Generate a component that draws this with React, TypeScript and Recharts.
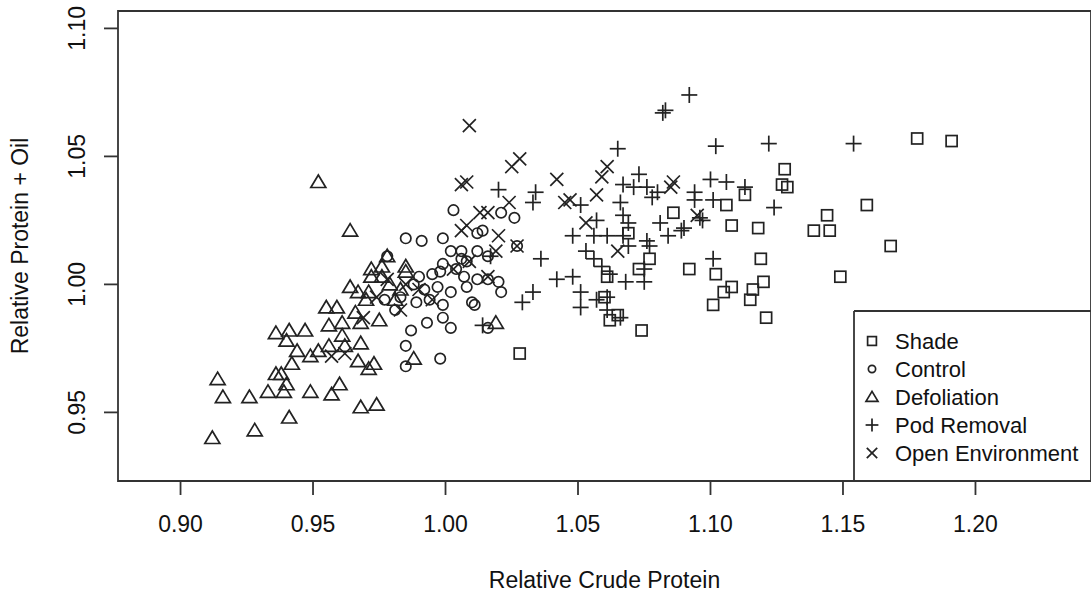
import React from 'react';
import { ScatterChart, Scatter, XAxis, YAxis, ReferenceArea, Legend } from 'recharts';

const xDomain = [0.8764, 1.2436];
const yDomain = [0.9232, 1.1068];
const xTicks = [0.9, 0.95, 1.0, 1.05, 1.1, 1.15, 1.2];
const yTicks = [0.95, 1.0, 1.05, 1.1];
const xTitle = 'Relative Crude Protein';
const yTitle = 'Relative Protein + Oil';
const seriesNames = ['Shade', 'Control', 'Defoliation', 'Pod Removal', 'Open Environment'];

const shade = [
  [1.028, 0.973], [1.060, 0.995], [1.061, 1.003], [1.062, 0.986], [1.065, 0.988], [1.069, 1.020],
  [1.073, 1.006], [1.074, 0.982], [1.077, 1.010], [1.086, 1.028], [1.092, 1.006], [1.101, 0.992],
  [1.102, 1.004], [1.105, 0.997], [1.106, 1.031], [1.108, 1.023], [1.108, 0.999], [1.113, 1.035],
  [1.115, 0.994], [1.116, 0.998], [1.118, 1.022], [1.119, 1.010], [1.120, 1.001], [1.121, 0.987],
  [1.127, 1.039], [1.128, 1.045], [1.129, 1.038], [1.139, 1.021], [1.144, 1.027], [1.145, 1.021],
  [1.149, 1.003], [1.159, 1.031], [1.168, 1.015], [1.178, 1.057], [1.191, 1.056],
];

const control = [
  [1.003, 1.029], [0.985, 1.018], [0.991, 1.017], [0.999, 1.018], [1.026, 1.026], [1.021, 1.028],
  [1.012, 1.020], [1.014, 1.021], [1.027, 1.015], [1.002, 1.013], [1.006, 1.013], [1.012, 1.013],
  [1.016, 1.011], [1.006, 1.010], [1.008, 1.009], [0.978, 1.011], [0.999, 1.008], [0.998, 1.005],
  [1.004, 1.006], [1.007, 1.003], [1.012, 1.002], [0.995, 1.004], [0.990, 1.003], [0.988, 1.000],
  [0.992, 0.998], [0.997, 0.999], [1.002, 0.997], [1.008, 0.999], [1.016, 1.002], [1.020, 1.001],
  [1.021, 0.997], [1.010, 0.993], [0.989, 0.993], [0.994, 0.994], [1.011, 0.992], [0.999, 0.992],
  [0.993, 0.985], [0.999, 0.987], [1.002, 0.983], [0.987, 0.982], [0.985, 0.976], [0.985, 0.968],
  [0.998, 0.971], [1.016, 0.983], [0.983, 0.995], [0.981, 0.990], [0.977, 0.994],
];

const defoliation = [
  [0.952, 1.040], [0.964, 1.021], [0.978, 1.011], [0.972, 1.006], [0.976, 1.007], [0.972, 1.003],
  [0.976, 1.003], [0.964, 0.999], [0.967, 0.997], [0.971, 0.997], [0.970, 0.994], [0.955, 0.991],
  [0.959, 0.991], [0.968, 0.985], [0.956, 0.984], [0.961, 0.985], [0.936, 0.981], [0.941, 0.982],
  [0.947, 0.982], [0.940, 0.978], [0.944, 0.974], [0.949, 0.972], [0.952, 0.974], [0.956, 0.976],
  [0.961, 0.980], [0.962, 0.976], [0.968, 0.977], [0.942, 0.969], [0.936, 0.965], [0.938, 0.965],
  [0.940, 0.961], [0.914, 0.963], [0.916, 0.956], [0.926, 0.956], [0.933, 0.958], [0.939, 0.958],
  [0.949, 0.958], [0.957, 0.957], [0.960, 0.961], [0.967, 0.970], [0.973, 0.969], [0.971, 0.967],
  [0.968, 0.952], [0.974, 0.953], [0.941, 0.948], [0.928, 0.943], [0.912, 0.940], [0.985, 1.007],
  [0.979, 1.000], [0.985, 1.005], [0.988, 0.971], [1.019, 0.985], [0.981, 0.994], [0.975, 0.986],
  [0.966, 0.989], [0.983, 0.998],
];

const podRemoval = [
  [1.092, 1.074], [1.083, 1.068], [1.082, 1.067], [1.065, 1.053], [1.102, 1.054], [1.122, 1.055],
  [1.154, 1.055], [1.124, 1.030], [1.020, 1.037], [1.034, 1.036], [1.033, 1.032], [1.048, 1.019],
  [1.036, 1.010], [1.042, 1.002], [1.048, 1.003], [1.033, 0.997], [1.029, 0.993], [1.051, 0.997],
  [1.017, 1.011], [1.014, 0.984], [1.051, 0.991], [1.073, 1.043], [1.067, 1.039], [1.071, 1.038],
  [1.076, 1.038], [1.080, 1.036], [1.078, 1.034], [1.066, 1.032], [1.051, 1.031], [1.057, 1.025],
  [1.067, 1.027], [1.069, 1.024], [1.081, 1.024], [1.090, 1.022], [1.100, 1.041], [1.106, 1.040],
  [1.113, 1.038], [1.094, 1.036], [1.094, 1.033], [1.101, 1.033], [1.096, 1.026], [1.097, 1.025],
  [1.056, 1.019], [1.061, 1.019], [1.067, 1.019], [1.076, 1.017], [1.084, 1.019], [1.089, 1.021],
  [1.053, 1.013], [1.056, 1.010], [1.059, 1.007], [1.069, 1.015], [1.077, 1.015], [1.075, 1.006],
  [1.075, 1.001], [1.068, 1.001], [1.062, 1.004], [1.057, 0.994], [1.061, 0.995], [1.061, 0.990],
  [1.066, 0.987], [1.101, 1.010],
];

const openEnvironment = [
  [1.009, 1.062], [1.025, 1.046], [1.028, 1.049], [1.006, 1.039], [1.008, 1.040], [1.042, 1.041],
  [1.024, 1.032], [1.045, 1.032], [1.016, 1.028], [1.013, 1.028], [1.008, 1.023], [1.006, 1.021],
  [1.020, 1.019], [1.027, 1.015], [1.019, 1.013], [1.016, 1.003], [0.985, 1.000], [0.978, 1.002],
  [1.061, 1.046], [1.059, 1.042], [1.057, 1.035], [1.086, 1.040], [1.085, 1.038], [1.053, 1.024],
  [1.047, 1.033], [1.065, 1.013], [1.095, 1.027], [0.957, 0.972], [0.962, 0.973], [0.974, 0.995],
  [0.995, 0.994], [1.003, 1.006], [0.990, 0.998], [0.983, 0.990], [0.969, 0.987], [1.009, 1.009],
];

const kinds = ['square', 'circle', 'triangle', 'plus', 'cross'];
const allSeries = [shade, control, defoliation, podRemoval, openEnvironment];

const INK = '#222';
const FONT = '"Liberation Sans", Arial, sans-serif';

function Marker({ kind, cx, cy, k = 1 }: { kind: string; cx: number; cy: number; k?: number }) {
  const common = { fill: 'none', stroke: INK, strokeWidth: 1.7 };
  if (kind === 'square') {
    const h = 5.5 * k;
    return <rect x={cx - h} y={cy - h} width={2 * h} height={2 * h} {...common} />;
  }
  if (kind === 'circle') {
    return <circle cx={cx} cy={cy} r={5.2 * k} {...common} />;
  }
  if (kind === 'triangle') {
    const w = 7.5 * k;
    return (
      <polygon
        points={`${cx},${cy - 7 * k} ${cx - w},${cy + 5.5 * k} ${cx + w},${cy + 5.5 * k}`}
        {...common}
        strokeLinejoin="miter"
      />
    );
  }
  if (kind === 'plus') {
    const a = 8 * k;
    return (
      <g {...common}>
        <line x1={cx - a} y1={cy} x2={cx + a} y2={cy} />
        <line x1={cx} y1={cy - a} x2={cx} y2={cy + a} />
      </g>
    );
  }
  const a = 6.5 * k;
  return (
    <g {...common}>
      <line x1={cx - a} y1={cy - a} x2={cx + a} y2={cy + a} />
      <line x1={cx - a} y1={cy + a} x2={cx + a} y2={cy - a} />
    </g>
  );
}

const makeShape = (kind: string) => (props: any) => {
  if (props.cx == null || props.cy == null) return <g />;
  return <Marker kind={kind} cx={props.cx} cy={props.cy} />;
};

const XTick = (props: any) => {
  const { x, y, payload } = props;
  return (
    <text x={x} y={y + 35} textAnchor="middle" fontSize={23} fontFamily={FONT} fill="#111">
      {Number(payload.value).toFixed(2)}
    </text>
  );
};

const YTick = (props: any) => {
  const { x, y, payload } = props;
  const bx = x - 17;
  return (
    <text
      x={bx}
      y={y}
      textAnchor="middle"
      fontSize={23}
      fontFamily={FONT}
      fill="#111"
      transform={`rotate(-90, ${bx}, ${y})`}
    >
      {Number(payload.value).toFixed(2)}
    </text>
  );
};

const XTitle = (props: any) => {
  const vb = props.viewBox || { x: 118, y: 481, width: 973, height: 117 };
  return (
    <text
      x={vb.x + vb.width / 2}
      y={vb.y + vb.height - 10}
      textAnchor="middle"
      fontSize={23}
      fontFamily={FONT}
      fill="#111"
    >
      {xTitle}
    </text>
  );
};

const YTitle = (props: any) => {
  const vb = props.viewBox || { x: 0, y: 11, width: 118, height: 470 };
  const tx = vb.x + 28;
  const ty = vb.y + vb.height / 2;
  return (
    <text
      x={tx}
      y={ty}
      textAnchor="middle"
      fontSize={23}
      fontFamily={FONT}
      fill="#111"
      transform={`rotate(-90, ${tx}, ${ty})`}
    >
      {yTitle}
    </text>
  );
};

const LegendBox = () => (
  <svg width={238} height={171} style={{ display: 'block' }}>
    <line x1={1} y1={1} x2={238} y2={1} stroke="#333" strokeWidth={1.8} />
    <line x1={1} y1={1} x2={1} y2={171} stroke="#333" strokeWidth={1.8} />
    {seriesNames.map((name, i) => (
      <g key={name}>
        <Marker kind={kinds[i]} cx={19} cy={31 + i * 28} k={i === 1 ? 0.7 : 0.8} />
        <text x={42} y={31 + i * 28 + 8} fontSize={22} fontFamily={FONT} fill="#111">
          {name}
        </text>
      </g>
    ))}
  </svg>
);

export default function App() {
  return (
    <div style={{ position: 'absolute', left: 0, top: 0, width: 1091, height: 598, background: '#fff' }}>
      <ScatterChart width={1091} height={598} margin={{ top: 11, right: 0, bottom: 0, left: 0 }}>
        <XAxis
          type="number"
          dataKey="x"
          domain={xDomain}
          ticks={xTicks}
          allowDataOverflow
          height={117}
          tickSize={14}
          axisLine={false}
          tickLine={{ stroke: '#333', strokeWidth: 1.8 }}
          tick={<XTick />}
          interval={0}
          label={<XTitleLabel />}
        />
        <YAxis
          type="number"
          dataKey="y"
          domain={yDomain}
          ticks={yTicks}
          allowDataOverflow
          width={118}
          tickSize={14}
          axisLine={false}
          tickLine={{ stroke: '#333', strokeWidth: 1.8 }}
          tick={<YTick />}
          interval={0}
          label={<YTitleLabel />}
        />
        <ReferenceArea
          x1={xDomain[0]}
          x2={xDomain[1]}
          y1={yDomain[0]}
          y2={yDomain[1]}
          fill="none"
          fillOpacity={0}
          stroke="#333"
          strokeWidth={1.8}
          ifOverflow="visible"
        />
        {allSeries.map((pts, i) => (
          <Scatter
            key={seriesNames[i]}
            name={seriesNames[i]}
            data={pts.map(([x, y]) => ({ x, y }))}
            shape={makeShape(kinds[i])}
            isAnimationActive={false}
          />
        ))}
        <Legend
          layout="horizontal"
          verticalAlign="middle"
          align="center"
          content={<LegendBox />}
          wrapperStyle={{ left: 853, top: 310, width: 238, height: 171 }}
        />
      </ScatterChart>
    </div>
  );
}

function XTitleLabel(props: any) {
  return <XTitle {...props} />;
}

function YTitleLabel(props: any) {
  return <YTitle {...props} />;
}
